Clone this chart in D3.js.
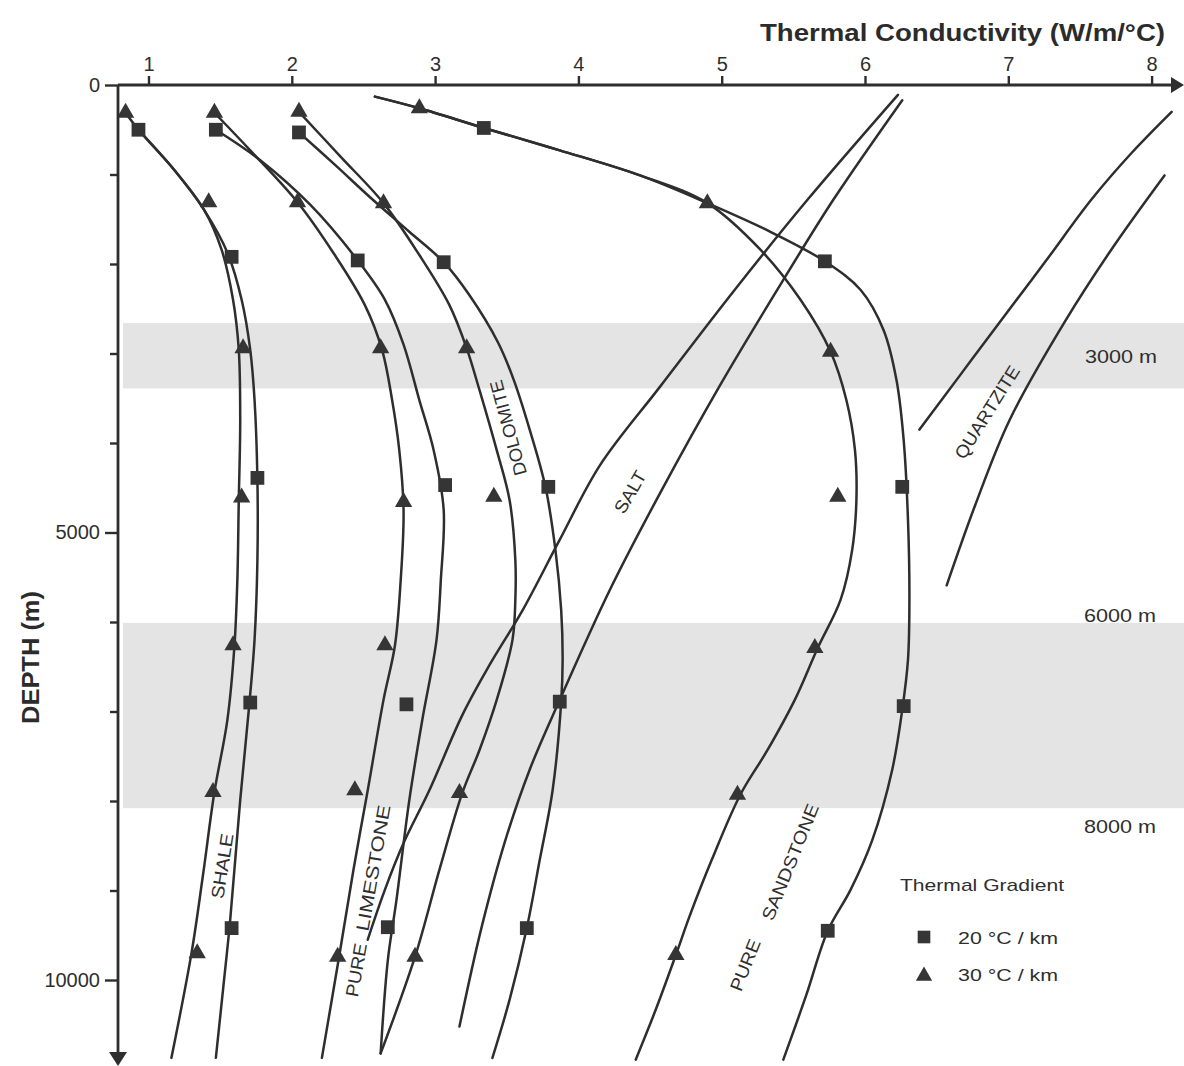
<!DOCTYPE html>
<html>
<head>
<meta charset="utf-8">
<script src="https://cdn.jsdelivr.net/npm/d3@7"></script>
<style>
  html, body { margin: 0; padding: 0; background: #fff; }
  svg { display: block; font-family: "Liberation Sans", Arial, Helvetica, sans-serif; }
</style>
</head>
<body>
<svg id="chart" width="1184" height="1066"></svg>
<script>
// ---- axis ticks ----
const kTicks = [1, 2, 3, 4, 5, 6, 7, 8];                       // W/m/°C
const depthTicks = [0, 1000, 2000, 3000, 4000, 5000, 6000, 7000, 8000, 9000, 10000];
const depthTickLabels = [0, 5000, 10000];

// ---- shaded depth windows (m) and their captions ----
const bandDepths = [[2660, 3390], [6010, 8080]];
const bandCaptions = ["3000 m", "6000 m", "8000 m"];

// ---- conductivity curves, [k (W/m/°C), depth (m)] ----
const shale20Curve = [[0.93,500],[1.18,950],[1.39,1400],[1.55,1870],[1.65,2400],[1.71,2960],[1.74,3520],[1.76,4410],[1.76,5310],[1.74,6200],[1.70,6980],[1.64,7990],[1.57,9330],[1.52,10110],[1.47,10870]];
const shale30Curve = [[0.84,310],[0.93,500],[1.18,950],[1.39,1400],[1.51,1840],[1.59,2400],[1.63,2960],[1.64,3740],[1.63,4640],[1.62,5530],[1.60,6260],[1.55,7100],[1.46,7900],[1.38,8830],[1.30,9700],[1.16,10870]];
const limestone20Curve = [[1.47,500],[1.78,840],[2.13,1340],[2.46,1960],[2.65,2400],[2.78,2900],[2.89,3520],[2.99,4080],[3.06,4750],[3.04,5530],[3.01,6200],[2.91,7100],[2.82,7990],[2.73,9110],[2.67,9780],[2.62,10820]];
const limestone30Curve = [[1.46,310],[1.71,730],[2.04,1310],[2.30,1900],[2.51,2460],[2.63,2960],[2.70,3520],[2.75,4080],[2.78,4750],[2.76,5530],[2.72,6260],[2.64,6870],[2.53,7880],[2.43,8770],[2.33,9740],[2.21,10870]];
const dolomite20Curve = [[2.05,530],[2.30,890],[2.55,1260],[2.82,1640],[3.06,1980],[3.24,2350],[3.44,2880],[3.55,3300],[3.66,3850],[3.77,4490],[3.84,5200],[3.88,5870],[3.89,6420],[3.88,6890],[3.82,7880],[3.73,8660],[3.64,9420],[3.52,10220],[3.40,10870]];
const dolomite30Curve = [[2.05,300],[2.34,800],[2.64,1320],[2.89,1900],[3.10,2460],[3.22,2940],[3.31,3410],[3.43,4080],[3.52,4640],[3.56,5310],[3.56,5750],[3.54,6200],[3.43,6870],[3.31,7430],[3.19,7910],[3.03,8770],[2.86,9740],[2.62,10820]];
const sandstone20Curve = [[2.58,130],[2.89,260],[3.34,480],[3.87,730],[4.43,1010],[4.90,1320],[5.34,1640],[5.72,1970],[5.97,2290],[6.13,2740],[6.22,3300],[6.27,3970],[6.30,4860],[6.31,5750],[6.30,6420],[6.26,6980],[6.19,7650],[6.05,8440],[5.90,8990],[5.74,9450],[5.59,10170],[5.43,10890]];
const sandstone30Curve = [[2.58,130],[2.89,260],[3.34,480],[3.87,730],[4.43,1010],[4.90,1320],[5.27,1840],[5.55,2400],[5.76,2980],[5.87,3520],[5.93,4080],[5.94,4640],[5.91,5200],[5.83,5750],[5.67,6290],[5.51,6870],[5.32,7430],[5.13,7930],[4.93,8660],[4.78,9270],[4.68,9720],[4.54,10330],[4.40,10890]];
const saltCurveA = [[6.23,110],[5.60,1280],[5.09,2290],[4.57,3370],[4.15,4250],[3.87,5080],[3.61,5870],[3.38,6480],[3.19,7040],[2.96,7880],[2.78,8470],[2.65,8990],[2.53,9550]];
const saltCurveB = [[6.26,170],[5.78,1280],[5.41,2230],[4.99,3350],[4.57,4560],[4.22,5640],[3.87,6870],[3.66,7650],[3.49,8440],[3.32,9440],[3.17,10520]];
const quartziteCurveA = [[6.38,3850],[6.66,3250],[6.94,2650],[7.26,1970],[7.58,1280],[7.86,760],[8.14,300]];
const quartziteCurveB = [[6.57,5590],[6.77,4690],[7.01,3740],[7.40,2630],[7.74,1790],[8.09,1010]];

// ---- measured values: 20 °C/km (squares) and 30 °C/km (triangles) ----
const shale20Points = [[0.93,500],[1.58,1920],[1.76,4390],[1.71,6900],[1.58,9420]];
const shale30Points = [[0.84,310],[1.42,1310],[1.66,2940],[1.65,4610],[1.59,6260],[1.45,7900],[1.34,9700]];
const limestone20Points = [[1.47,500],[2.46,1960],[3.07,4470],[2.80,6920],[2.67,9410]];
const limestone30Points = [[1.46,310],[2.04,1310],[2.62,2940],[2.78,4660],[2.65,6260],[2.44,7880],[2.32,9740]];
const dolomite20Points = [[2.05,530],[3.06,1980],[3.79,4490],[3.87,6890],[3.64,9420]];
const dolomite30Points = [[2.05,300],[2.64,1320],[3.22,2940],[3.41,4600],[3.17,7910],[2.86,9740]];
const sandstone20Points = [[3.34,480],[5.72,1970],[6.26,4490],[6.27,6940],[5.74,9450]];
const sandstone30Points = [[2.89,260],[4.90,1320],[5.76,2980],[5.81,4600],[5.65,6290],[5.11,7930],[4.68,9720]];

const legendTitle = "Thermal Gradient";
const legendItems = ["20 °C / km", "30 °C / km"];

// ---------------------------------------------------------------
const ink = "#2e2e2e";
const svg = d3.select("#chart");

const x = d3.scaleLinear().domain([1, 8]).range([148.5, 1151.6]);
const y = d3.scaleLinear().domain([0, 10000]).range([85, 980]);
const axisX0 = 118;                     // position of the depth axis

// shaded windows
const bands = svg.append("g");
bandDepths.forEach(([d0, d1]) => {
  bands.append("rect")
    .attr("x", axisX0 + 5).attr("width", 1184 - axisX0 - 5)
    .attr("y", y(d0)).attr("height", y(d1) - y(d0))
    .attr("fill", "#e4e4e4");
});
const capStyle = t => t.attr("font-size", 19).attr("fill", ink)
  .attr("text-anchor", "middle").attr("textLength", 72).attr("lengthAdjust", "spacingAndGlyphs");
svg.append("text").text(bandCaptions[0]).call(capStyle)
  .attr("x", 1121).attr("y", (y(bandDepths[0][0]) + y(bandDepths[0][1])) / 2 + 7);
svg.append("text").text(bandCaptions[1]).call(capStyle)
  .attr("x", 1120).attr("y", y(bandDepths[1][0]) - 1);
svg.append("text").text(bandCaptions[2]).call(capStyle)
  .attr("x", 1120).attr("y", y(bandDepths[1][1]) + 25);

// curves
const line = d3.line()
  .x(d => x(d[0])).y(d => y(d[1]))
  .curve(d3.curveCatmullRom.alpha(0.5));
const curves = [shale20Curve, shale30Curve, limestone20Curve, limestone30Curve,
  dolomite20Curve, dolomite30Curve, sandstone20Curve, sandstone30Curve,
  saltCurveA, saltCurveB, quartziteCurveA, quartziteCurveB];
svg.append("g").selectAll("path").data(curves).join("path")
  .attr("d", line)
  .attr("fill", "none").attr("stroke", ink).attr("stroke-width", 2.5)
  .attr("stroke-linejoin", "round").attr("stroke-linecap", "round");

// markers
const squareSym = d3.symbol().type(d3.symbolSquare).size(190);
const triSym = d3.symbol().type(d3.symbolTriangle).size(130);
const sqData = [].concat(shale20Points, limestone20Points, dolomite20Points, sandstone20Points);
const trData = [].concat(shale30Points, limestone30Points, dolomite30Points, sandstone30Points);
const marks = svg.append("g");
marks.selectAll("path.sq").data(sqData).join("path").attr("class", "sq")
  .attr("d", squareSym).attr("fill", "#353535")
  .attr("transform", d => `translate(${x(d[0])},${y(d[1])})`);
marks.selectAll("path.tr").data(trData).join("path").attr("class", "tr")
  .attr("d", triSym).attr("fill", "#353535")
  .attr("transform", d => `translate(${x(d[0])},${y(d[1])})`);

// rock names set along their curves
const notes = [
  { t: "SHALE",     k: 1.513, d: 8726, a: -81,  len: 66 },
  { t: "LIMESTONE", k: 2.567, d: 8748, a: -80,  len: 128 },
  { t: "PURE",      k: 2.448, d: 9888, a: -80,  len: 54 },
  { t: "DOLOMITE",  k: 3.509, d: 3832, a: -105, len: 98 },
  { t: "SALT",      k: 4.360, d: 4547, a: -60,  len: 46 },
  { t: "QUARTZITE", k: 6.851, d: 3654, a: -58,  len: 106 },
  { t: "SANDSTONE", k: 5.477, d: 8681, a: -68,  len: 124 },
  { t: "PURE",      k: 5.163, d: 9832, a: -68,  len: 54 }
];
svg.append("g").selectAll("text").data(notes).join("text")
  .text(n => n.t)
  .attr("transform", n => `translate(${x(n.k)},${y(n.d)}) rotate(${n.a})`)
  .attr("text-anchor", "middle").attr("dy", "0.36em")
  .attr("font-size", 18).attr("fill", ink)
  .attr("textLength", n => n.len).attr("lengthAdjust", "spacingAndGlyphs");

// conductivity axis (top)
const gx = svg.append("g").attr("transform", `translate(0,${y(0)})`)
  .call(d3.axisTop(x).tickValues(kTicks).tickSize(9).tickPadding(5).tickFormat(d3.format("d")));
gx.select(".domain").remove();
gx.selectAll(".tick line").attr("stroke", ink).attr("stroke-width", 2.4);
gx.selectAll(".tick text").attr("fill", ink).attr("font-size", 20)
  .attr("font-family", "'Liberation Sans', Arial, sans-serif");
const xEnd = 1184;
svg.append("line").attr("x1", axisX0).attr("x2", xEnd - 10)
  .attr("y1", y(0)).attr("y2", y(0)).attr("stroke", ink).attr("stroke-width", 2.8);
svg.append("path")
  .attr("d", `M${xEnd},${y(0)} L${xEnd - 13},${y(0) - 8} L${xEnd - 13},${y(0) + 8} Z`)
  .attr("fill", ink);

// depth axis (left)
const gy = svg.append("g").attr("transform", `translate(${axisX0},0)`)
  .call(d3.axisLeft(y).tickValues(depthTicks).tickSize(13).tickPadding(5)
    .tickFormat(d => depthTickLabels.includes(d) ? d3.format("d")(d) : ""));
gy.select(".domain").remove();
gy.selectAll(".tick line").attr("stroke", ink).attr("stroke-width", 2.4)
  .attr("x2", d => depthTickLabels.includes(d) ? -13 : -8);
gy.selectAll(".tick text").attr("fill", ink).attr("font-size", 20)
  .attr("font-family", "'Liberation Sans', Arial, sans-serif");
const yEnd = 1066;
svg.append("line").attr("x1", axisX0).attr("x2", axisX0)
  .attr("y1", y(0)).attr("y2", yEnd - 10).attr("stroke", ink).attr("stroke-width", 2.8);
svg.append("path")
  .attr("d", `M${axisX0},${yEnd} L${axisX0 - 9},${yEnd - 14} L${axisX0 + 9},${yEnd - 14} Z`)
  .attr("fill", ink);

// axis titles
svg.append("text").text("Thermal Conductivity (W/m/°C)")
  .attr("x", 1165).attr("y", 41).attr("text-anchor", "end")
  .attr("font-size", 24).attr("font-weight", "bold").attr("fill", "#2b2b2b")
  .attr("textLength", 405).attr("lengthAdjust", "spacingAndGlyphs");
svg.append("text").text("DEPTH (m)")
  .attr("transform", `translate(39,${(y(0) + yEnd) / 2 + 82}) rotate(-90)`)
  .attr("text-anchor", "middle")
  .attr("font-size", 23).attr("font-weight", "bold").attr("fill", "#2b2b2b")
  .attr("textLength", 133).attr("lengthAdjust", "spacingAndGlyphs");

// legend
const lg = svg.append("g");
lg.append("text").text(legendTitle).attr("x", 900).attr("y", 891)
  .attr("font-size", 17).attr("fill", ink)
  .attr("textLength", 164).attr("lengthAdjust", "spacingAndGlyphs");
lg.append("path").attr("d", d3.symbol().type(d3.symbolSquare).size(160))
  .attr("transform", "translate(924,937)").attr("fill", "#353535");
lg.append("path").attr("d", d3.symbol().type(d3.symbolTriangle).size(115))
  .attr("transform", "translate(924,976)").attr("fill", "#353535");
legendItems.forEach((t, i) => {
  lg.append("text").text(t).attr("x", 958).attr("y", 944 + i * 37)
    .attr("font-size", 17).attr("fill", ink)
    .attr("textLength", 100).attr("lengthAdjust", "spacingAndGlyphs");
});
</script>
</body>
</html>
